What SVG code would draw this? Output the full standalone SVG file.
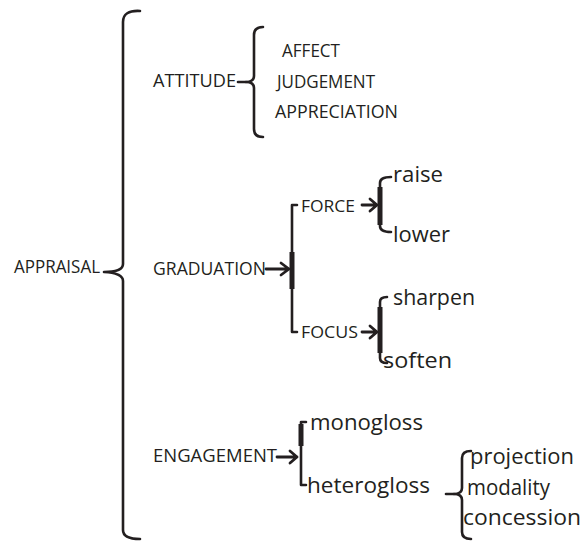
<svg xmlns="http://www.w3.org/2000/svg" width="584" height="541" viewBox="0 0 584 541">
<style>
  text { font-family: "Open Sans", "Liberation Sans", sans-serif; fill: #231f20; }
  .cap { font-size: 17.5px; }
  .sm { font-size: 16.5px; }
  .lo { font-size: 22px; }
  .br { fill: none; stroke: #231f20; stroke-width: 2.6; stroke-linecap: round; stroke-linejoin: round; }
  .thick { fill: none; stroke: #231f20; stroke-width: 5; }
  .ln { fill: none; stroke: #231f20; stroke-width: 2.8; stroke-linecap: round; stroke-linejoin: round; }
</style>
<rect width="584" height="541" fill="#ffffff"/>

<g id="appraisal">
  <text class="cap" x="14" y="273" textLength="86" lengthAdjust="spacingAndGlyphs">APPRAISAL</text>
</g>
<g id="attitude">
  <text class="cap" x="153" y="87" textLength="83" lengthAdjust="spacingAndGlyphs">ATTITUDE</text>
</g>
<g id="affect"><text class="cap" x="282" y="57" textLength="58" lengthAdjust="spacingAndGlyphs">AFFECT</text></g>
<g id="judgement"><text class="cap" x="277" y="88" textLength="98" lengthAdjust="spacingAndGlyphs">JUDGEMENT</text></g>
<g id="appreciation"><text class="cap" x="275" y="118" textLength="123" lengthAdjust="spacingAndGlyphs">APPRECIATION</text></g>
<g id="graduation"><text class="cap" x="153" y="275" textLength="113" lengthAdjust="spacingAndGlyphs">GRADUATION</text></g>
<g id="force"><text class="sm" x="301" y="212" textLength="54" lengthAdjust="spacingAndGlyphs">FORCE</text></g>
<g id="focus"><text class="sm" x="301" y="338" textLength="57" lengthAdjust="spacingAndGlyphs">FOCUS</text></g>
<g id="raise"><text class="lo" x="393" y="182" textLength="50" lengthAdjust="spacingAndGlyphs">raise</text></g>
<g id="lower"><text class="lo" x="393" y="242" textLength="57" lengthAdjust="spacingAndGlyphs">lower</text></g>
<g id="sharpen"><text class="lo" x="393" y="305" textLength="82" lengthAdjust="spacingAndGlyphs">sharpen</text></g>
<g id="soften"><text class="lo" x="383" y="368" textLength="69" lengthAdjust="spacingAndGlyphs">soften</text></g>
<g id="engagement"><text class="cap" x="153" y="462" textLength="124" lengthAdjust="spacingAndGlyphs">ENGAGEMENT</text></g>
<g id="monogloss"><text class="lo" x="310" y="430" textLength="113" lengthAdjust="spacingAndGlyphs">monogloss</text></g>
<g id="heterogloss"><text class="lo" x="307" y="493" textLength="123" lengthAdjust="spacingAndGlyphs">heterogloss</text></g>
<g id="projection"><text class="lo" x="470" y="464" textLength="104" lengthAdjust="spacingAndGlyphs">projection</text></g>
<g id="modality"><text class="lo" x="467" y="495" textLength="83" lengthAdjust="spacingAndGlyphs">modality</text></g>
<g id="concession"><text class="lo" x="463" y="525" textLength="118" lengthAdjust="spacingAndGlyphs">concession</text></g>

<g id="connectors">
  <!-- main brace -->
  <path class="br" d="M140,11 Q123,10 123,22 L123,264 Q123,272 104,272 Q123,273 123,281 L123,530 Q123,539 140,539"/>
  <!-- attitude bracket -->
  <path class="br" d="M238,82 L246,82"/>
  <path class="br" d="M263,27 Q254,27 254,35 L254,76 Q254,82 246,82 Q254,82 254,88 L254,129 Q254,137 263,137"/>
  <!-- graduation -->
  <path class="ln" d="M266,269 L289,269 M281,263 L289,269 L281,275"/>
  <path class="br" d="M297,205 L292,205 L292,332 L297,332"/>
  <path class="thick" d="M292,252 L292,289"/>
  <!-- force -->
  <path class="ln" d="M362,205 L377,205 M370,199 L377,205 L370,211"/>
  <path class="br" d="M391,177 Q380,177 380,183 L380,226 Q380,232 391,232"/>
  <path class="thick" d="M380,187 L380,225"/>
  <!-- focus -->
  <path class="ln" d="M362,332 L377,332 M370,326 L377,332 L370,338"/>
  <path class="br" d="M387,297 Q380,297 380,302 L380,358 Q380,363 387,363"/>
  <path class="thick" d="M380,307 L380,353"/>
  <!-- engagement -->
  <path class="ln" d="M277,457 L297,457 M290,451 L297,457 L290,463"/>
  <path class="br" d="M306,422 L301,422 L301,485 L306,485"/>
  <path class="thick" d="M301,424 L301,446"/>
  <!-- heterogloss -->
  <path class="br" d="M446,494 L454,494"/>
  <path class="br" d="M471,451 Q462,451 462,458 L462,488 Q462,494 454,494 Q462,494 462,500 L462,532 Q462,539 471,539"/>
</g>
</svg>
